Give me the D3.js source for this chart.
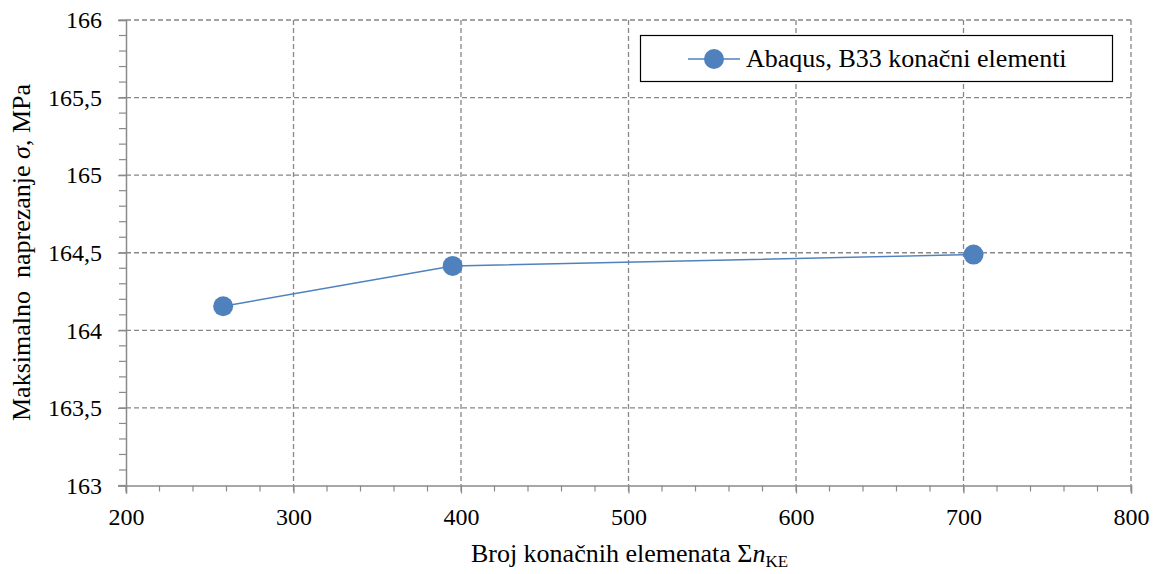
<!DOCTYPE html>
<html><head><meta charset="utf-8">
<script src="https://cdn.jsdelivr.net/npm/d3@7"></script>
<style>body{margin:0;background:#fff}svg text{font-family:"Liberation Serif",Tinos,"Times New Roman",Times,"DejaVu Serif",serif !important;fill:#000}</style>
</head><body><svg id="c" width="1159" height="574"></svg>
<script>
const xValues = [258, 395, 706];
const yValues = [164.155, 164.415, 164.488];
const seriesName = "Abaqus, B33 konačni elementi";
const xTicks = [200, 300, 400, 500, 600, 700, 800];
const yTicks = [163, 163.5, 164, 164.5, 165, 165.5, 166];
const yTickLabels = ["163", "163,5", "164", "164,5", "165", "165,5", "166"];

const svg = d3.select("#c");
const L = 126, R = 1131, T = 20, B = 485.5;
const x = d3.scaleLinear().domain([200, 800]).range([L, R]);
const y = d3.scaleLinear().domain([163, 166]).range([B, T]);
const gridCol = "#878787", axisCol = "#8a8a8a";

svg.append("g").selectAll("line").data(xTicks.slice(1)).join("line")
  .attr("x1", d => x(d)).attr("x2", d => x(d)).attr("y1", T).attr("y2", B)
  .attr("stroke", gridCol).attr("stroke-width", 1.3).attr("stroke-dasharray", "5,3");
svg.append("g").selectAll("line").data(yTicks.slice(1)).join("line")
  .attr("x1", L).attr("x2", R).attr("y1", d => y(d)).attr("y2", d => y(d))
  .attr("stroke", gridCol).attr("stroke-width", 1.3).attr("stroke-dasharray", "5,3");

const xMinor = d3.range(200, 801, 20);
const yMinor = d3.range(0, 31).map(i => 163 + i * 0.1);
svg.append("g").selectAll("line").data(xMinor).join("line")
  .attr("x1", d => x(d)).attr("x2", d => x(d)).attr("y1", B).attr("y2", B + 6)
  .attr("stroke", axisCol).attr("stroke-width", 1.2);
svg.append("g").selectAll("line").data(yMinor).join("line")
  .attr("x1", L - 7).attr("x2", L).attr("y1", d => y(d)).attr("y2", d => y(d))
  .attr("stroke", axisCol).attr("stroke-width", 1.2);

const xAxis = d3.axisBottom(x).tickValues(xTicks).tickSize(8).tickPadding(14.5).tickFormat(d3.format("d"));
const gx = svg.append("g").attr("transform", `translate(0,${B})`).call(xAxis).attr("font-family", null).attr("font-size", null);
gx.select(".domain").attr("stroke", axisCol).attr("stroke-width", 1.5);
gx.selectAll(".tick line").attr("stroke", axisCol).attr("stroke-width", 1.2);
gx.selectAll("text").attr("font-size", 24).attr("fill", "#000");

const yAxis = d3.axisLeft(y).tickValues(yTicks).tickSize(8).tickPadding(16).tickFormat((d, i) => yTickLabels[i]);
const gy = svg.append("g").attr("transform", `translate(${L},0)`).call(yAxis).attr("font-family", null).attr("font-size", null);
gy.select(".domain").attr("stroke", axisCol).attr("stroke-width", 1.5);
gy.selectAll(".tick line").attr("stroke", axisCol).attr("stroke-width", 1.2);
gy.selectAll("text").attr("font-size", 24).attr("fill", "#000");

const pts = xValues.map((v, i) => [v, yValues[i]]);
svg.append("path").datum(pts)
  .attr("d", d3.line().x(d => x(d[0])).y(d => y(d[1])))
  .attr("fill", "none").attr("stroke", "#4f81bd").attr("stroke-width", 1.5);
svg.append("g").selectAll("circle").data(pts).join("circle")
  .attr("cx", d => x(d[0])).attr("cy", d => y(d[1])).attr("r", 10)
  .attr("fill", "#4f81bd");

const lg = svg.append("g");
lg.append("rect").attr("x", 640.5).attr("y", 35.5).attr("width", 472).attr("height", 46)
  .attr("fill", "#fff").attr("stroke", "#000").attr("stroke-width", 1.2);
lg.append("line").attr("x1", 688).attr("x2", 740).attr("y1", 59).attr("y2", 59)
  .attr("stroke", "#4f81bd").attr("stroke-width", 1.5);
lg.append("circle").attr("cx", 714).attr("cy", 59).attr("r", 10).attr("fill", "#4f81bd");
lg.append("text").attr("x", 746).attr("y", 67).attr("font-size", 26).text(seriesName);

const xt = svg.append("text").attr("x", 629.5).attr("y", 562).attr("text-anchor", "middle").attr("font-size", 26);
xt.append("tspan").text("Broj konačnih elemenata Σ");
xt.append("tspan").attr("font-style", "italic").text("n");
xt.append("tspan").attr("font-size", 17).attr("dy", 5).text("KE");

const yt = svg.append("text").attr("transform", "translate(30,252.5) rotate(-90)")
  .attr("text-anchor", "middle").attr("font-size", 26).attr("xml:space", "preserve");
yt.append("tspan").text("Maksimalno  naprezanje ");
yt.append("tspan").attr("font-style", "italic").text("σ");
yt.append("tspan").text(", MPa");
</script></body></html>
